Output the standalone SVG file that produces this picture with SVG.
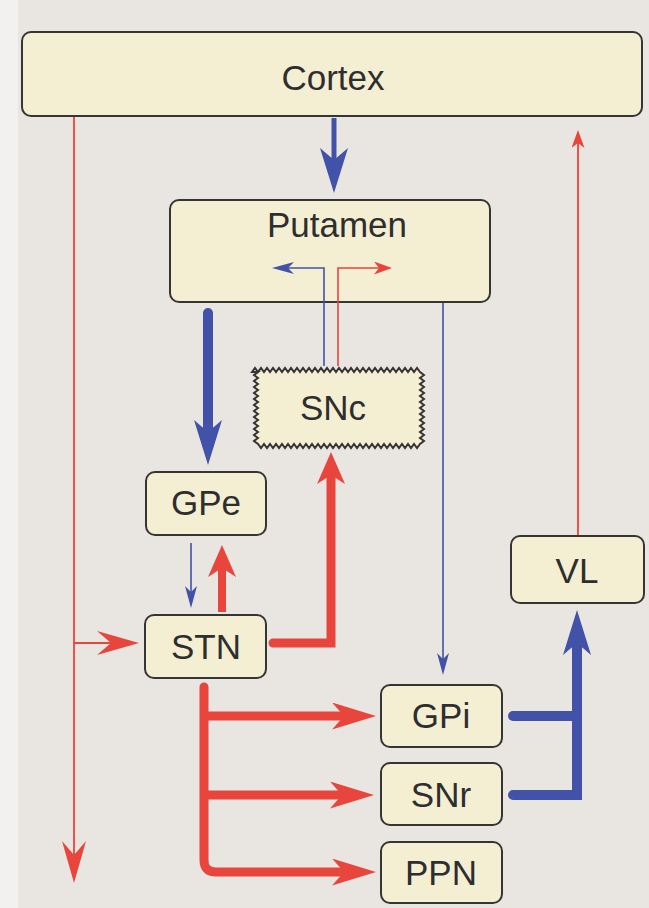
<svg xmlns="http://www.w3.org/2000/svg" width="649" height="908" viewBox="0 0 649 908">
<style>
.box{fill:#f4efd3;stroke:#353535;stroke-width:2}
.lbl{font-family:"Liberation Sans",Arial,sans-serif;font-size:35px;fill:#2e2e2e;text-anchor:middle}
.r{fill:none;stroke:#e8453c}
.b{fill:none;stroke:#4152a8}
</style>
<defs>
<marker id="rBig" viewBox="0 0 44 27" markerWidth="44" markerHeight="27" refX="14" refY="13.5" orient="auto" markerUnits="userSpaceOnUse"><path d="M0,0 L44,13.5 L0,27 L12,13.5 Z" fill="#e8453c"/></marker>
<marker id="rMed" viewBox="0 0 32 28" markerWidth="32" markerHeight="28" refX="11" refY="14" orient="auto" markerUnits="userSpaceOnUse"><path d="M0,0 L32,14 L0,28 L9,14 Z" fill="#e8453c"/></marker>
<marker id="rThinL" viewBox="0 0 42 24" markerWidth="42" markerHeight="24" refX="16" refY="12" orient="auto" markerUnits="userSpaceOnUse"><path d="M0,0 L42,12 L0,24 L14,12 Z" fill="#e8453c"/></marker>
<marker id="rThinS" viewBox="0 0 18 13" markerWidth="18" markerHeight="13" refX="6" refY="6.5" orient="auto" markerUnits="userSpaceOnUse"><path d="M0,0 L18,6.5 L0,13 L5,6.5 Z" fill="#e8453c"/></marker>
<marker id="bBig" viewBox="0 0 45 28" markerWidth="45" markerHeight="28" refX="14" refY="14" orient="auto" markerUnits="userSpaceOnUse"><path d="M0,0 L45,14 L0,28 L12,14 Z" fill="#4152a8"/></marker>
<marker id="bThinS" viewBox="0 0 22 12" markerWidth="22" markerHeight="12" refX="7" refY="6" orient="auto" markerUnits="userSpaceOnUse"><path d="M0,0 L22,6 L0,12 L6,6 Z" fill="#4152a8"/></marker>
</defs>
<rect width="649" height="908" fill="#e9e6e2"/>
<rect width="18" height="908" fill="#f2f1ef"/>

<g id="cortex">
  <rect class="box" x="22" y="32" width="620" height="84" rx="9"/>
  <text class="lbl" x="333" y="90">Cortex</text>
</g>
<g id="putamen">
  <rect class="box" x="170" y="200" width="320" height="102" rx="9"/>
  <text class="lbl" x="337" y="237">Putamen</text>
</g>
<g id="snc">
  <path class="box" d="M252,372 l3,-4 3,4 3,-4 3,4 3,-4 3,4 3,-4 3,4 3,-4 3,4 3,-4 3,4 3,-4 3,4 3,-4 3,4 3,-4 3,4 3,-4 3,4 3,-4 3,4 3,-4 3,4 3,-4 3,4 3,-4 3,4 3,-4 3,4 3,-4 3,4 3,-4 3,4 3,-4 3,4 3,-4 3,4 3,-4 3,4 3,-4 3,4 3,-4 3,4 3,-4 3,4 3,-4 3,4 3,-4 3,4 3,-4 3,4 3,-4 3,4 3,-4 3,4 l4,3 -4,3 4,3 -4,3 4,3 -4,3 4,3 -4,3 4,3 -4,3 4,3 -4,3 4,3 -4,3 4,3 -4,3 4,3 -4,3 4,3 -4,3 4,3 -4,3 4,3 -4,3 l-3,4 -3,-4 -3,4 -3,-4 -3,4 -3,-4 -3,4 -3,-4 -3,4 -3,-4 -3,4 -3,-4 -3,4 -3,-4 -3,4 -3,-4 -3,4 -3,-4 -3,4 -3,-4 -3,4 -3,-4 -3,4 -3,-4 -3,4 -3,-4 -3,4 -3,-4 -3,4 -3,-4 -3,4 -3,-4 -3,4 -3,-4 -3,4 -3,-4 -3,4 -3,-4 -3,4 -3,-4 -3,4 -3,-4 -3,4 -3,-4 -3,4 -3,-4 -3,4 -3,-4 -3,4 -3,-4 -3,4 -3,-4 -3,4 -3,-4 l-4,-3 4,-3 -4,-3 4,-3 -4,-3 4,-3 -4,-3 4,-3 -4,-3 4,-3 -4,-3 4,-3 -4,-3 4,-3 -4,-3 4,-3 -4,-3 4,-3 -4,-3 4,-3 -4,-3 4,-3 -4,-3 4,-3 Z" stroke-width="1.6"/>
  <text class="lbl" x="333" y="420">SNc</text>
</g>
<g id="gpe">
  <rect class="box" x="146" y="472" width="120" height="63" rx="9"/>
  <text class="lbl" x="206" y="515">GPe</text>
</g>
<g id="stn">
  <rect class="box" x="145" y="615" width="121" height="63" rx="9"/>
  <text class="lbl" x="206" y="659">STN</text>
</g>
<g id="vl">
  <rect class="box" x="511" y="536" width="133" height="67" rx="9"/>
  <text class="lbl" x="577" y="583">VL</text>
</g>
<g id="gpi">
  <rect class="box" x="381" y="685" width="121" height="62" rx="9"/>
  <text class="lbl" x="441" y="728">GPi</text>
</g>
<g id="snr">
  <rect class="box" x="381" y="763" width="121" height="62" rx="9"/>
  <text class="lbl" x="441" y="807">SNr</text>
</g>
<g id="ppn">
  <rect class="box" x="381" y="842" width="121" height="61" rx="9"/>
  <text class="lbl" x="441" y="885">PPN</text>
</g>

<g id="connectors">
  <path class="b" d="M334,118 V162" stroke-width="5" marker-end="url(#bBig)"/>
  <path class="b" d="M208,313 V434" stroke-width="10" stroke-linecap="round" marker-end="url(#bBig)"/>
  <path class="b" d="M324,366 V268 H287" stroke-width="1.6" marker-end="url(#bThinS)"/>
  <path class="r" d="M338,366 V268 H380" stroke-width="1.6" marker-end="url(#rThinS)"/>
  <path class="b" d="M443,303 V660" stroke-width="1.6" marker-end="url(#bThinS)"/>
  <path class="b" d="M191,543 V593" stroke-width="1.6" marker-end="url(#bThinS)"/>
  <path class="r" d="M222,612 V566" stroke-width="8" marker-end="url(#rMed)"/>
  <path class="r" d="M273,643 H331 V473" stroke-width="9" stroke-linecap="round" marker-end="url(#rMed)"/>
  <path class="r" d="M204,687 V860 Q204,872 216,872 H346" stroke-width="9" stroke-linecap="round" marker-end="url(#rBig)"/>
  <path class="r" d="M204,716 H346" stroke-width="9" marker-end="url(#rBig)"/>
  <path class="r" d="M204,795 H344" stroke-width="9" marker-end="url(#rBig)"/>
  <path class="b" d="M513,716 H577" stroke-width="10" stroke-linecap="round"/>
  <path class="b" d="M513,795 H577 V641" stroke-width="10" stroke-linecap="round" marker-end="url(#bBig)"/>
  <path class="r" d="M74,117 V857" stroke-width="1.8" marker-end="url(#rThinL)"/>
  <path class="r" d="M74,643 H113" stroke-width="1.8" marker-end="url(#rThinL)"/>
  <path class="r" d="M578,535 V142" stroke-width="1.8" marker-end="url(#rThinS)"/>
</g>
</svg>
